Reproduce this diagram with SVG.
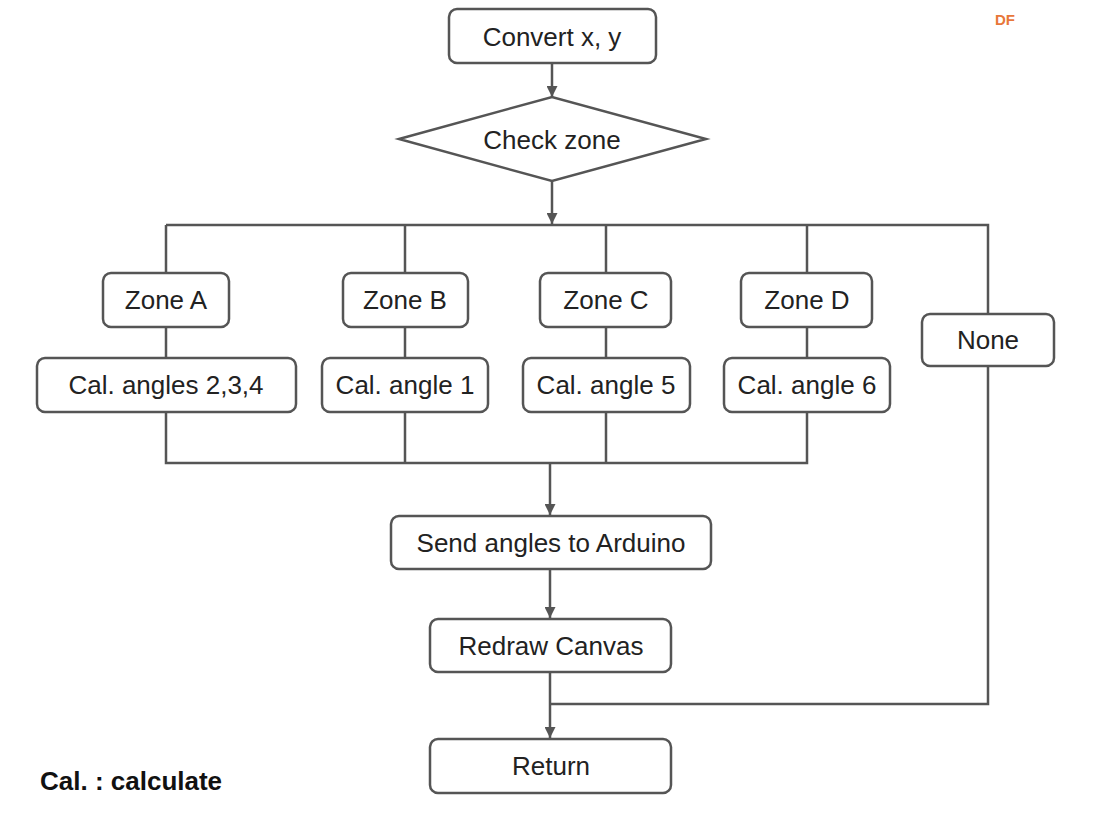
<svg xmlns="http://www.w3.org/2000/svg" width="1102" height="824" viewBox="0 0 1102 824">
<style>
.b{fill:#fff;stroke:#555;stroke-width:2.5}
.t{font-family:"Liberation Sans",Arial,sans-serif;font-size:26px;fill:#222;text-anchor:middle;dominant-baseline:central}
.c{fill:none;stroke:#555;stroke-width:2.5}
</style>
<defs><marker id="a" viewBox="0 0 10 10" refX="10" refY="5" markerWidth="4.4" markerHeight="4.4" orient="auto"><path d="M0,0L10,5L0,10z" fill="#555"/></marker></defs>
<rect width="1102" height="824" fill="#fff"/>
<g id="connectors" class="c">
<path d="M552,63V97" marker-end="url(#a)"/>
<path d="M552,181V224" marker-end="url(#a)"/>
<path d="M166,225H988V314"/>
<path d="M166,225V273M405,225V273M606,225V273M807,225V273"/>
<path d="M166,327V358M405,327V358M606,327V358M807,327V358"/>
<path d="M166,412V463H807V412M405,412V463M606,412V463"/>
<path d="M550,463V515" marker-end="url(#a)"/>
<path d="M550,569V618" marker-end="url(#a)"/>
<path d="M550,672V738" marker-end="url(#a)"/>
<path d="M988,366V704H550"/>
</g>
<g id="convert"><rect class="b" x="449" y="9" width="207" height="54" rx="8"/><text class="t" x="552" y="37">Convert x, y</text></g>
<g id="check"><polygon class="b" points="399,139 552,97 706,139 552,181"/><text class="t" x="552" y="140">Check zone</text></g>
<g id="zoneA"><rect class="b" x="103" y="273" width="126" height="54" rx="8"/><text class="t" x="166" y="300">Zone A</text></g>
<g id="zoneB"><rect class="b" x="343" y="273" width="125" height="54" rx="8"/><text class="t" x="405" y="300">Zone B</text></g>
<g id="zoneC"><rect class="b" x="540" y="273" width="131" height="54" rx="8"/><text class="t" x="606" y="300">Zone C</text></g>
<g id="zoneD"><rect class="b" x="741" y="273" width="131" height="54" rx="8"/><text class="t" x="807" y="300">Zone D</text></g>
<g id="none"><rect class="b" x="922" y="314" width="132" height="52" rx="8"/><text class="t" x="988" y="340">None</text></g>
<g id="calA"><rect class="b" x="37" y="358" width="259" height="54" rx="8"/><text class="t" x="166" y="385">Cal. angles 2,3,4</text></g>
<g id="calB"><rect class="b" x="322" y="358" width="166" height="54" rx="8"/><text class="t" x="405" y="385">Cal. angle 1</text></g>
<g id="calC"><rect class="b" x="523" y="358" width="167" height="54" rx="8"/><text class="t" x="606" y="385">Cal. angle 5</text></g>
<g id="calD"><rect class="b" x="724" y="358" width="166" height="54" rx="8"/><text class="t" x="807" y="385">Cal. angle 6</text></g>
<g id="send"><rect class="b" x="391" y="516" width="320" height="53" rx="8"/><text class="t" x="551" y="543">Send angles to Arduino</text></g>
<g id="redraw"><rect class="b" x="430" y="619" width="241" height="53" rx="8"/><text class="t" x="551" y="646">Redraw Canvas</text></g>
<g id="return"><rect class="b" x="430" y="739" width="241" height="54" rx="8"/><text class="t" x="551" y="766">Return</text></g>
<text x="40" y="790" font-family="Liberation Sans,Arial,sans-serif" font-size="26" font-weight="bold" fill="#111">Cal. : calculate</text>
<text x="1005" y="25" font-family="Liberation Sans,Arial,sans-serif" font-size="15" font-weight="bold" fill="#e8773a" text-anchor="middle">DF</text>
</svg>
